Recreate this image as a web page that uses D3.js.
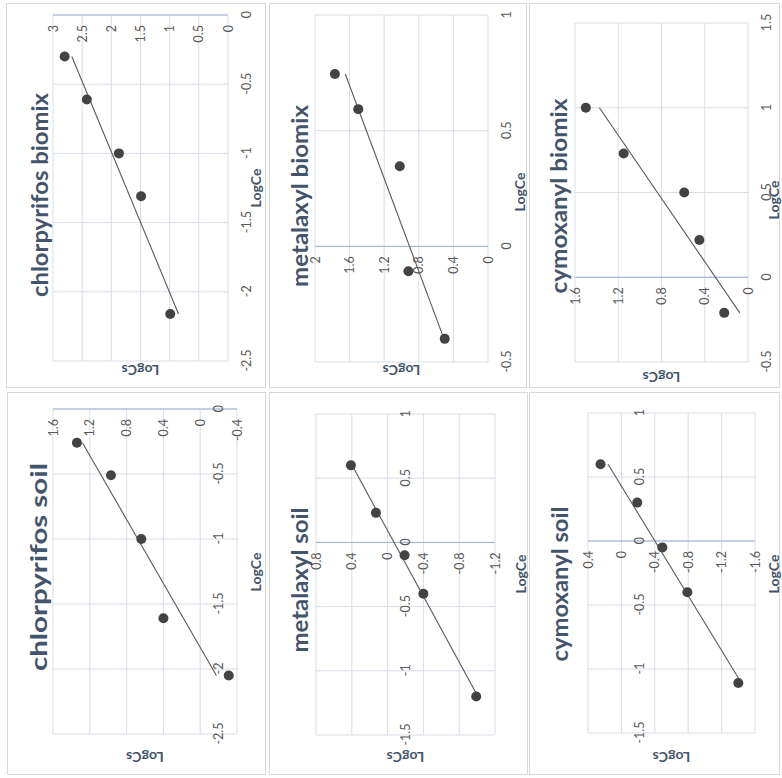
<!DOCTYPE html>
<html>
<head>
<meta charset="utf-8">
<script src="https://cdn.jsdelivr.net/npm/d3@7"></script>
<style>
  body { margin: 0; background: #fff; }
  svg { display: block; }
  text { font-family: Lato, "Open Sans", sans-serif; }
</style>
</head>
<body>
<svg id="chart" width="782" height="778"></svg>
<script>
// values: LogCe (x) and LogCs (y) for each isotherm
const chlorBiomixCe = [-0.30, -0.61, -1.00, -1.31, -2.16];
const chlorBiomixCs = [2.80, 2.42, 1.87, 1.49, 0.99];
const metaBiomixCe = [0.745, 0.593, 0.346, -0.108, -0.40];
const metaBiomixCs = [1.77, 1.50, 1.02, 0.92, 0.50];
const cymoBiomixCe = [1.00, 0.73, 0.50, 0.22, -0.21];
const cymoBiomixCs = [1.50, 1.15, 0.59, 0.45, 0.22];
const chlorSoilCe = [-0.26, -0.51, -1.00, -1.61, -2.05];
const chlorSoilCs = [1.34, 0.97, 0.64, 0.40, -0.31];
const metaSoilCe = [0.60, 0.23, -0.10, -0.40, -1.20];
const metaSoilCs = [0.41, 0.13, -0.19, -0.40, -0.99];
const cymoSoilCe = [0.60, 0.30, -0.05, -0.40, -1.11];
const cymoSoilCs = [0.25, -0.19, -0.49, -0.79, -1.40];

// axis tick labels
const ceTicksChlor = [-2.5, -2, -1.5, -1, -0.5, 0];
const ceTicksMetaBiomix = [-0.5, 0, 0.5, 1];
const ceTicksCymoBiomix = [-0.5, 0, 0.5, 1, 1.5];
const ceTicksSoil = [-1.5, -1, -0.5, 0, 0.5, 1];
const csTicksChlorBiomix = [0, 0.5, 1, 1.5, 2, 2.5, 3];
const csTicksMetaBiomix = [0, 0.4, 0.8, 1.2, 1.6, 2];
const csTicksCymoBiomix = [0, 0.4, 0.8, 1.2, 1.6];
const csTicksChlorSoil = [-0.4, 0, 0.4, 0.8, 1.2, 1.6];
const csTicksMetaSoil = [-1.2, -0.8, -0.4, 0, 0.4, 0.8];
const csTicksCymoSoil = [-1.6, -1.2, -0.8, -0.4, 0, 0.4];

const titles = ['chlorpyrifos biomix', 'metalaxyl biomix', 'cymoxanyl biomix',
    'chlorpyrifos soil', 'metalaxyl soil', 'cymoxanyl soil'];

// every chart is an Excel scatter turned a quarter turn counter-clockwise,
// so the layout below is given in page pixels of the turned picture
const panels = [
    { ce: chlorBiomixCe, cs: chlorBiomixCs, ceTicks: ceTicksChlor, csTicks: csTicksChlorBiomix,
        box: [6, 3, 265, 387], plot: [53, 228, 15, 361], title: [48, 195, 204], ceTitle: [255, 188], csTitleY: 370 },
    { ce: metaBiomixCe, cs: metaBiomixCs, ceTicks: ceTicksMetaBiomix, csTicks: csTicksMetaBiomix,
        box: [269, 3, 526, 387], plot: [315, 488, 15, 362], title: [308, 196, 182], ceTitle: [519, 192], csTitleY: 370 },
    { ce: cymoBiomixCe, cs: cymoBiomixCs, ceTicks: ceTicksCymoBiomix, csTicks: csTicksCymoBiomix,
        box: [529, 3, 779, 387], plot: [575, 748, 23, 362], title: [567, 196, 195], ceTitle: [773, 200], csTitleY: 377 },
    { ce: chlorSoilCe, cs: chlorSoilCs, ceTicks: ceTicksChlor, csTicks: csTicksChlorSoil,
        box: [7, 392, 265, 774], plot: [53, 237, 409, 734], title: [47, 567, 208], ceTitle: [255, 572], csTitleY: 757 },
    { ce: metaSoilCe, cs: metaSoilCs, ceTicks: ceTicksSoil, csTicks: csTicksMetaSoil,
        box: [269, 392, 527, 774], plot: [316, 495, 414, 735], title: [308, 580, 145], ceTitle: [520, 574], csTitleY: 757 },
    { ce: cymoSoilCe, cs: cymoSoilCs, ceTicks: ceTicksSoil, csTicks: csTicksCymoSoil,
        box: [529, 392, 779, 774], plot: [588, 755, 413, 733], title: [568, 584, 155], ceTitle: [773, 574], csTitleY: 757 }
];

const gridColor = '#d9dde6';
const axisColor = '#9db0d3';
const labelColor = '#595959';
const titleColor = '#44546a';
const fmt = d => String(d);

// least squares line, as the Excel linear trendline
function linearFit (xs, ys) {
    const mx = d3.mean(xs);
    const my = d3.mean(ys);
    const sxy = d3.sum(xs, (v, i) => (v - mx) * (ys[i] - my));
    const sxx = d3.sum(xs, v => (v - mx) * (v - mx));
    const slope = sxy / sxx;
    return v => my + slope * (v - mx);
}

const svg = d3.select('#chart');

panels.forEach(function (p, i) {
    const [px0, px1, py0, py1] = p.plot;
    const W = py1 - py0; // length of the LogCe axis
    const H = px1 - px0; // length of the LogCs axis

    svg.append('rect')
        .attr('x', p.box[0] + 0.5)
        .attr('y', p.box[1] + 0.5)
        .attr('width', p.box[2] - p.box[0])
        .attr('height', p.box[3] - p.box[1])
        .attr('fill', '#fff')
        .attr('stroke', '#d9d9d9');

    const g = svg.append('g')
        .attr('transform', 'translate(' + px0 + ',' + py1 + ') rotate(-90)');

    const x = d3.scaleLinear().domain(d3.extent(p.ceTicks)).range([0, W]);
    const y = d3.scaleLinear().domain(d3.extent(p.csTicks)).range([H, 0]);

    // gridlines
    g.selectAll('.gx').data(p.ceTicks).join('line')
        .attr('x1', d => x(d)).attr('x2', d => x(d))
        .attr('y1', 0).attr('y2', H)
        .attr('stroke', gridColor);
    g.selectAll('.gy').data(p.csTicks).join('line')
        .attr('x1', 0).attr('x2', W)
        .attr('y1', d => y(d)).attr('y2', d => y(d))
        .attr('stroke', gridColor);

    // value axis line sits at LogCe = 0
    const yAxisX = x(0);
    g.append('line')
        .attr('x1', yAxisX).attr('x2', yAxisX)
        .attr('y1', 0).attr('y2', H)
        .attr('stroke', axisColor);

    // tick labels
    const xAxisY = y(Math.max(0, y.domain()[0]));
    const xAxis = g.append('g')
        .attr('transform', 'translate(0,' + xAxisY + ')')
        .call(d3.axisBottom(x).tickValues(p.ceTicks).tickSize(0).tickPadding(14).tickFormat(fmt));
    const yAxis = g.append('g')
        .attr('transform', 'translate(' + yAxisX + ',0)')
        .call(d3.axisLeft(y).tickValues(p.csTicks).tickSize(0).tickPadding(10).tickFormat(fmt));
    [xAxis, yAxis].forEach(function (a) {
        a.select('.domain').remove();
        a.attr('font-family', null).attr('font-size', null);
        a.selectAll('text')
            .attr('fill', labelColor)
            .style('font-size', '12.5px');
    });

    // trendline
    const fit = linearFit(p.ce, p.cs);
    const [lo, hi] = d3.extent(p.ce);
    g.append('line')
        .attr('x1', x(lo)).attr('y1', y(fit(lo)))
        .attr('x2', x(hi)).attr('y2', y(fit(hi)))
        .attr('stroke', '#595959')
        .attr('stroke-width', 1.1);

    // points
    g.selectAll('.pt').data(p.ce).join('circle')
        .attr('cx', d => x(d))
        .attr('cy', (d, j) => y(p.cs[j]))
        .attr('r', 5)
        .attr('fill', '#434343');

    // chart title
    g.append('text')
        .attr('x', py1 - p.title[1])
        .attr('y', p.title[0] - px0)
        .attr('text-anchor', 'middle')
        .attr('textLength', p.title[2])
        .attr('lengthAdjust', 'spacingAndGlyphs')
        .attr('fill', titleColor)
        .style('font-size', '23px')
        .style('font-weight', 'bold')
        .text(titles[i]);

    // axis titles
    g.append('text')
        .attr('x', py1 - p.ceTitle[1])
        .attr('y', p.ceTitle[0] - px0)
        .attr('text-anchor', 'middle')
        .attr('dominant-baseline', 'central')
        .attr('fill', titleColor)
        .style('font-size', '14px')
        .style('font-weight', 'bold')
        .text('LogCe');
    g.append('text')
        .attr('transform', 'translate(' + (py1 - p.csTitleY) + ',' + (H / 2) + ') rotate(-90)')
        .attr('text-anchor', 'middle')
        .attr('dominant-baseline', 'central')
        .attr('fill', titleColor)
        .style('font-size', '14px')
        .style('font-weight', 'bold')
        .text('LogCs');
});
</script>
</body>
</html>
